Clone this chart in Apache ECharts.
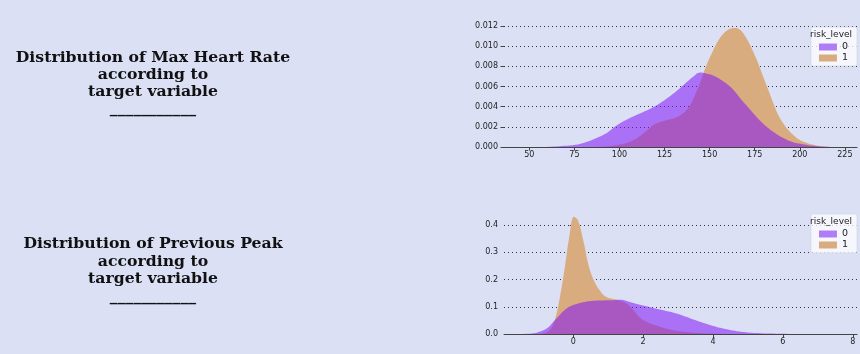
<!DOCTYPE html>
<html>
<head>
<meta charset="utf-8">
<script src="https://cdn.jsdelivr.net/npm/echarts@6/dist/echarts.min.js"></script>
<style>
  html, body { margin: 0; padding: 0; background: #dce0f5; }
  #chart { width: 860px; height: 354px; }
</style>
</head>
<body>
<div id="chart"></div>
<script>
// max heart rate, density per risk level
var hrX0 = [55, 62, 68, 74, 80, 86, 93, 99, 105, 111, 117, 122, 127, 132, 137, 141, 144.5, 148, 152, 156, 160, 164, 168, 173, 178, 183, 187, 192, 196, 201, 206, 212, 218];
var hrY0 = [0, 0.00003, 0.0001, 0.00017, 0.0004, 0.0008, 0.0014, 0.0022, 0.0028, 0.0033, 0.0038, 0.0043, 0.0049, 0.0056, 0.0064, 0.0070, 0.0074, 0.0073, 0.0071, 0.0067, 0.0062, 0.0055, 0.0046, 0.0036, 0.0026, 0.0018, 0.0013, 0.0008, 0.0005, 0.0003, 0.00015, 0.00005, 0];
var hrX1 = [85, 92, 99, 104, 110, 115, 119, 123, 127, 131, 135, 139, 142, 145, 148, 152, 155, 158, 161, 164, 167, 170, 173, 176, 179, 182, 185, 188, 191, 194, 197, 200, 204, 208, 212, 218];
var hrY1 = [0, 0.00005, 0.0002, 0.0004, 0.0009, 0.0016, 0.0022, 0.0025, 0.0027, 0.0029, 0.0033, 0.0041, 0.0052, 0.0065, 0.0080, 0.0096, 0.0106, 0.0113, 0.0117, 0.0118, 0.0116, 0.0109, 0.0099, 0.0087, 0.0073, 0.0059, 0.0045, 0.0032, 0.0023, 0.0016, 0.0011, 0.0007, 0.0004, 0.0002, 0.00008, 0];

// previous peak, density per risk level
var pkX0 = [-1.6, -1.34, -1.05, -0.76, -0.48, -0.19, 0.1, 0.57, 1.05, 1.34, 1.72, 2.1, 2.48, 2.96, 3.44, 3.91, 4.39, 4.87, 5.35, 5.82, 6.5, 7.2];
var pkY0 = [0, 0.001, 0.005, 0.02, 0.057, 0.094, 0.11, 0.122, 0.124, 0.126, 0.114, 0.102, 0.09, 0.075, 0.053, 0.033, 0.017, 0.007, 0.0025, 0.001, 0.0003, 0];
var pkX1 = [-1.0, -0.8, -0.67, -0.53, -0.38, -0.24, -0.1, 0.02, 0.14, 0.29, 0.43, 0.57, 0.76, 0.95, 1.24, 1.53, 1.72, 2.0, 2.48, 2.96, 3.44, 3.9, 4.5];
var pkY1 = [0, 0.004, 0.015, 0.05, 0.136, 0.245, 0.367, 0.43, 0.416, 0.343, 0.258, 0.203, 0.16, 0.136, 0.126, 0.112, 0.088, 0.051, 0.027, 0.012, 0.005, 0.002, 0];

var hrXTicks = [50, 75, 100, 125, 150, 175, 200, 225];
var hrYTicks = [0, 0.002, 0.004, 0.006, 0.008, 0.010, 0.012];
var pkXTicks = [0, 2, 4, 6, 8];
var pkYTicks = [0, 0.1, 0.2, 0.3, 0.4];

var levels = ['0', '1'];
var colorLine = ['#b07cf6', '#d9ac80'];

function pairs(xs, ys) {
  var out = [];
  for (var i = 0; i < xs.length; i++) out.push([xs[i], ys[i]]);
  return out;
}

var myChart = echarts.init(document.getElementById('chart'));

var tickFont = { fontFamily: 'DejaVu Sans', fontSize: 8, color: '#222' };

function xAx(idx, min, max, ticks) {
  return {
    type: 'value', gridIndex: idx, min: min, max: max,
    axisLine: { show: true, lineStyle: { color: '#444', width: 1 } },
    axisTick: { show: true, length: 3.5, lineStyle: { color: '#444' }, customValues: ticks },
    axisLabel: Object.assign({ margin: 4, customValues: ticks }, tickFont),
    splitLine: { show: false }
  };
}
function yAx(idx, max, interval, ticks, digits, lineColors) {
  return {
    type: 'value', gridIndex: idx, min: 0, max: max, interval: interval,
    axisLine: { show: false },
    axisTick: { show: true, length: 3.5, lineStyle: { color: '#444' }, customValues: ticks },
    axisLabel: Object.assign({
      margin: 6, customValues: ticks,
      formatter: function (v) { return v.toFixed(digits); }
    }, tickFont),
    splitLine: { show: true, lineStyle: { color: lineColors, type: [1, 3], width: 0.9 } }
  };
}

function area(name, xi, data, color, opacity, z) {
  return {
    name: name, type: 'line', xAxisIndex: xi, yAxisIndex: xi,
    data: data, smooth: 0.4, symbol: 'none', z: z,
    lineStyle: { width: 0 },
    itemStyle: { color: color },
    areaStyle: { color: color, opacity: opacity }
  };
}

function legendAt(top) {
  return {
    orient: 'vertical', right: 3, top: top, selectedMode: false,
    icon: 'rect', itemWidth: 18, itemHeight: 7, itemGap: 1,
    padding: [15, 9, 3, 8],
    backgroundColor: 'rgba(255,255,255,0.75)', borderColor: '#cfd3e0', borderWidth: 0.6, borderRadius: 2,
    textStyle: { fontFamily: 'DejaVu Sans', fontSize: 9.5, color: '#222' },
    data: [
      { name: '0', itemStyle: { color: colorLine[0] } },
      { name: '1', itemStyle: { color: colorLine[1] } }
    ]
  };
}

function titleLines(lines, x, y0, gap) {
  return lines.map(function (t, i) {
    return {
      type: 'text', x: x, y: y0 + i * gap,
      style: { text: t, font: 'bold 15.7px "DejaVu Serif"', fill: '#111', align: 'center', verticalAlign: 'middle' }
    };
  });
}

var graphics = []
  .concat(titleLines(['Distribution of Max Heart Rate', 'according to', 'target variable', '___________'], 153, 58, 17))
  .concat(titleLines(['Distribution of Previous Peak', 'according to', 'target variable', '___________'], 153, 244, 17.5))
  .concat([
    { type: 'text', x: 831, y: 35, z: 100, style: { text: 'risk_level', font: '9px "DejaVu Sans"', fill: '#222', align: 'center', verticalAlign: 'middle' } },
    { type: 'text', x: 831, y: 222, z: 100, style: { text: 'risk_level', font: '9px "DejaVu Sans"', fill: '#222', align: 'center', verticalAlign: 'middle' } }
  ]);

myChart.setOption({
  backgroundColor: '#dce0f5',
  animation: false,
  grid: [
    { left: 504, right: 3, top: 26, bottom: 207 },
    { left: 504, right: 3, top: 211.4, bottom: 20 }
  ],
  xAxis: [
    xAx(0, 35.98, 231.7, hrXTicks),
    xAx(1, -1.98, 8.12, pkXTicks)
  ],
  yAxis: [
    yAx(0, 0.012, 0.002, hrYTicks, 3, ['#222']),
    yAx(1, 0.45, 0.1, pkYTicks, 1, ['#222', '#222', '#222', '#222', '#222', 'rgba(0,0,0,0)'])
  ],
  legend: [legendAt(27), legendAt(214)],
  series: [
    area(levels[1], 0, pairs(hrX1, hrY1), '#d9ac80', 1, 2),
    area(levels[0], 0, pairs(hrX0, hrY0), '#8214f5', 0.55, 3),
    area(levels[1], 1, pairs(pkX1, pkY1), '#d9ac80', 1, 2),
    area(levels[0], 1, pairs(pkX0, pkY0), '#8214f5', 0.55, 3)
  ],
  graphic: graphics
});
</script>
</body>
</html>
